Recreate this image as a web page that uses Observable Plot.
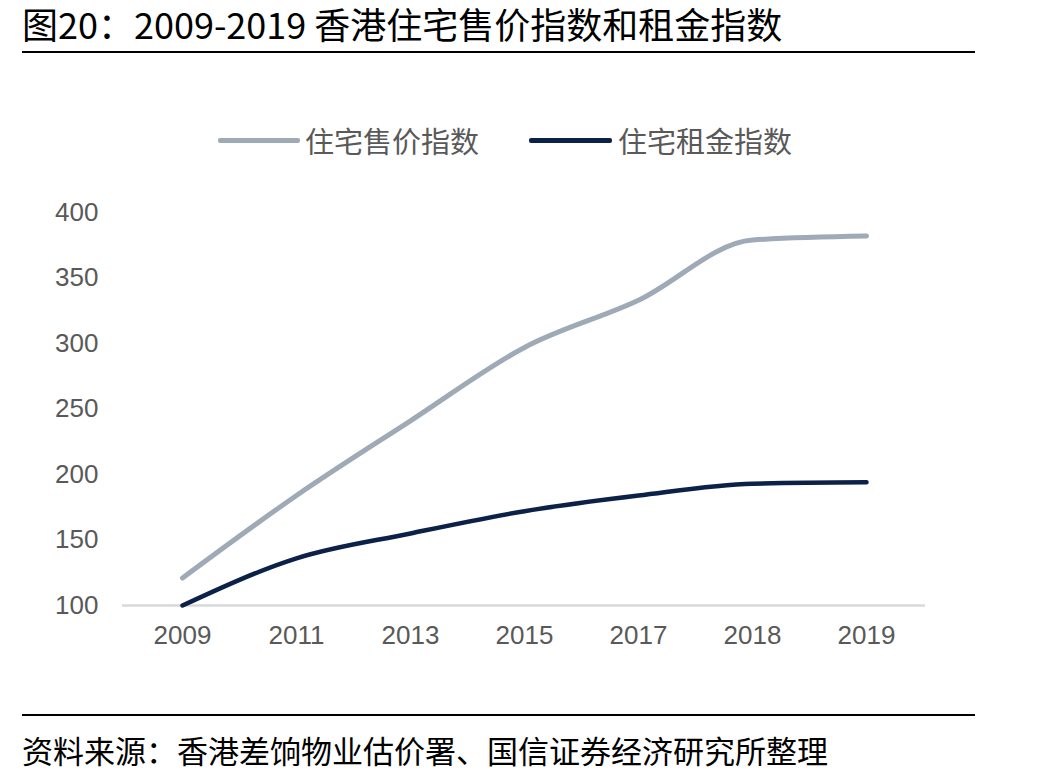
<!DOCTYPE html>
<html>
<head>
<meta charset="utf-8">
<script src="https://cdn.jsdelivr.net/npm/d3@7"></script>
<script src="https://cdn.jsdelivr.net/npm/@observablehq/plot@0.6"></script>
<style>
  html, body { margin: 0; padding: 0; background: #fff; }
  #page { position: relative; width: 1047px; height: 783px; overflow: hidden; font-family: "Noto Sans CJK SC", sans-serif; }
  .title { position: absolute; left: 22px; top: 0px; font-size: 36px; line-height: 46px; color: #000; white-space: nowrap; }
  .rule { position: absolute; left: 22px; width: 953px; height: 2px; background: #000; }
  .legend { position: absolute; top: 124px; left: 0; height: 32px; width: 1047px; }
  .legend .swatch { position: absolute; height: 5px; border-radius: 2px; top: 14px; }
  .legend .label { position: absolute; top: 0; font-size: 29px; line-height: 32px; color: #595959; white-space: nowrap; }
  .caption { position: absolute; left: 22px; top: 733px; font-size: 31px; line-height: 34px; color: #000; white-space: nowrap; }
  #chart { position: absolute; left: 0; top: 180px; }
</style>
</head>
<body>
<div id="page">
  <div class="title">图20：2009-2019 香港住宅售价指数和租金指数</div>
  <div class="rule" style="top:51px"></div>
  <div class="legend" id="legend"></div>
  <div id="chart"></div>
  <div class="rule" style="top:714px"></div>
  <div class="caption">资料来源：香港差饷物业估价署、国信证券经济研究所整理</div>
</div>
<script>
// Index values (2009 = 100 for rents)
const years = ["2009", "2011", "2013", "2015", "2017", "2018", "2019"];
const saleIndex = [121, 184, 241, 297, 333, 379, 382];
const rentIndex = [100, 136, 155, 172, 184, 193, 194];
const seriesNames = ["住宅售价指数", "住宅租金指数"];
const seriesColors = ["#9eaab6", "#0c2148"];
const yTicks = [100, 150, 200, 250, 300, 350, 400];

const rows = [];
years.forEach((yr, i) => {
  rows.push({year: yr, value: saleIndex[i], series: seriesNames[0]});
  rows.push({year: yr, value: rentIndex[i], series: seriesNames[1]});
});

// Legend
const legend = document.getElementById("legend");
const legendPos = [{line: 218, w: 82, text: 305}, {line: 529, w: 83, text: 618}];
seriesNames.forEach((name, i) => {
  const sw = document.createElement("div");
  sw.className = "swatch";
  sw.style.left = legendPos[i].line + "px";
  sw.style.width = legendPos[i].w + "px";
  sw.style.background = seriesColors[i];
  legend.appendChild(sw);
  const lb = document.createElement("div");
  lb.className = "label";
  lb.style.left = legendPos[i].text + "px";
  lb.textContent = name;
  legend.appendChild(lb);
});

const chart = Plot.plot({
  width: 1047,
  height: 480,
  marginTop: 32,
  marginBottom: 55,
  marginLeft: 122,
  marginRight: 122,
  style: {fontFamily: "'Liberation Sans', Arial, sans-serif", fontSize: "26px", color: "#595959", background: "transparent"},
  x: {type: "point", domain: years, padding: 0.5, label: null},
  y: {domain: [100, 400], label: null},
  color: {domain: seriesNames, range: seriesColors},
  marks: [
    Plot.axisY({ticks: yTicks, tickSize: 0, tickPadding: 24, fontSize: 26, fill: "#595959"}),
    Plot.axisX({tickSize: 0, tickPadding: 20, fontSize: 26, fill: "#595959"}),
    Plot.ruleY([100], {stroke: "#d9d9d9", strokeWidth: 2.5}),
    Plot.line(rows.filter(d => d.series === seriesNames[0]), {x: "year", y: "value", stroke: "series", strokeWidth: 5, curve: "monotone-x"}),
    Plot.line(rows.filter(d => d.series === seriesNames[1]), {x: "year", y: "value", stroke: "series", strokeWidth: 4.5, curve: "monotone-x"})
  ]
});
document.getElementById("chart").appendChild(chart);
</script>
</body>
</html>
